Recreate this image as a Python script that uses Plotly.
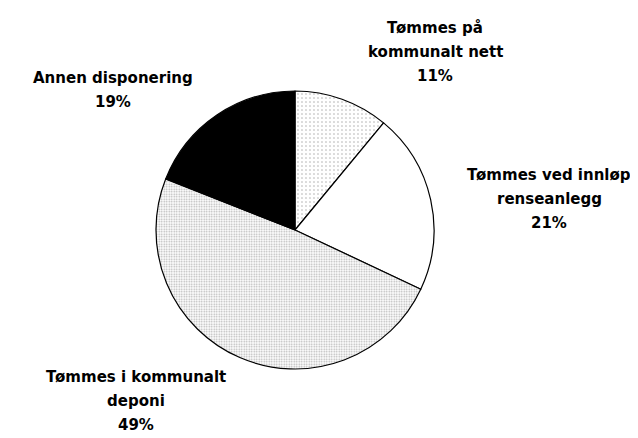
import plotly.graph_objects as go

categories = ["Tømmes på kommunalt nett", "Tømmes ved innløp renseanlegg",
              "Tømmes i kommunalt deponi", "Annen disponering"]
label_lines = [["Tømmes på", "kommunalt nett"],
               ["Tømmes ved innløp", "renseanlegg"],
               ["Tømmes i kommunalt", "deponi"],
               ["Annen disponering"]]
values = [11, 21, 49, 19]

W, H = 638, 438
cx, cy, r = 287, 222, 139

fig = go.Figure(go.Pie(
    labels=categories,
    values=values,
    sort=False,
    direction="clockwise",
    rotation=0,
    textinfo="none",
    hoverinfo="label+percent",
    showlegend=False,
    marker=dict(
        colors=["white", "white", "white", "black"],
        line=dict(color="black", width=1.2),
        pattern=dict(
            shape=[".", "", ".", ""],
            fgcolor=["#555555", "black", "#666666", "black"],
            bgcolor=["white", "white", "white", "black"],
            size=[4, 4, 2.5, 4],
            solidity=[0.12, 0.1, 0.35, 0.1],
            fillmode="overlay",
        ),
    ),
    domain=dict(x=[(cx - r) / W, (cx + r) / W],
                y=[(H - cy - r) / H, (H - cy + r) / H]),
))

# label block positions (centre x, first line y) in pixels
label_pos = [(427, 20), (541, 167), (128, 369), (105, 70)]
line_gap = 24
annotations = []
for lines, v, (lx, ly) in zip(label_lines, values, label_pos):
    for i, t in enumerate(lines + [f"{v}%"]):
        annotations.append(dict(
            x=lx / W, y=1 - (ly + i * line_gap) / H,
            xref="paper", yref="paper", xanchor="center", yanchor="middle",
            text=t, showarrow=False,
            font=dict(family="DejaVu Sans", size=15, color="black", weight="bold"),
        ))

fig.update_layout(
    width=W, height=H,
    margin=dict(l=0, r=0, t=0, b=0),
    paper_bgcolor="white", plot_bgcolor="white",
    annotations=annotations,
)
fig.write_html("out.html")
